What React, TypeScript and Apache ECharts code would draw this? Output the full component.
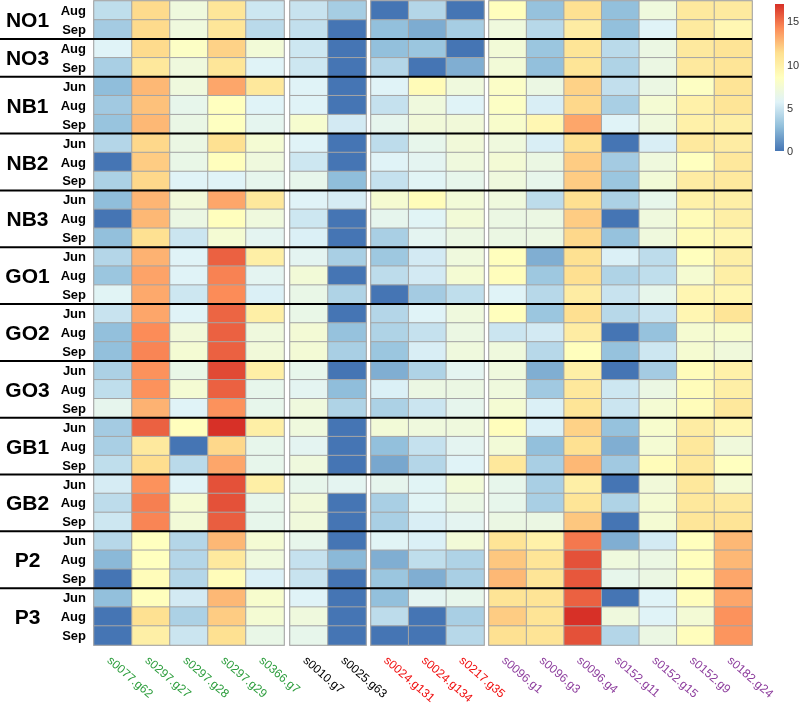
import React, { useEffect, useRef } from 'react';
import * as echarts from 'echarts';

const FONT = '"Liberation Sans", Arial, Helvetica, sans-serif';

const siteNames = ['NO1', 'NO3', 'NB1', 'NB2', 'NB3', 'GO1', 'GO2', 'GO3', 'GB1', 'GB2', 'P2', 'P3'];
const siteMonths = [
  ['Aug', 'Sep'], ['Aug', 'Sep'],
  ['Jun', 'Aug', 'Sep'], ['Jun', 'Aug', 'Sep'], ['Jun', 'Aug', 'Sep'],
  ['Jun', 'Aug', 'Sep'], ['Jun', 'Aug', 'Sep'], ['Jun', 'Aug', 'Sep'],
  ['Jun', 'Aug', 'Sep'], ['Jun', 'Aug', 'Sep'], ['Jun', 'Aug', 'Sep'], ['Jun', 'Aug', 'Sep'],
];

const genesGreen = ['s0077.g62', 's0297.g27', 's0297.g28', 's0297.g29', 's0366.g7'];
const genesBlack = ['s0010.g7', 's0025.g63'];
const genesRed = ['s0024.g131', 's0024.g134', 's0217.g35'];
const genesPurple = ['s0096.g1', 's0096.g3', 's0096.g4', 's0152.g11', 's0152.g15', 's0152.g9', 's0182.g24'];

// values per site: one row per month, columns follow green, black, red, purple genes
const NO1 = [
  [4.5, 11.5, 7, 10.8, 5, 4.8, 3.6, 0, 4.1, 0, 8.6, 3, 11.2, 2.9, 7, 10.5, 10.4],
  [3.5, 11.5, 7, 10.8, 4.3, 4.6, 0, 2.9, 2.1, 3.6, 7, 4.2, 10.2, 2.9, 5.7, 10.4, 9.2],
];
const NO3 = [
  [5.7, 11.5, 8.2, 11.8, 7.3, 5, 0, 2.9, 3.2, 0, 7.3, 3.2, 10.9, 4.3, 6.7, 10.5, 11],
  [3.7, 10.6, 7, 10.8, 5.7, 5, 0, 4.1, 0, 2.2, 7.3, 2.9, 10.9, 3.9, 6.7, 10.5, 10.9],
];
const NB1 = [
  [2.8, 12.7, 7, 13.3, 10.6, 5.7, 0, 5.7, 8.9, 7, 8.1, 6.7, 11.8, 4.6, 6.7, 8.3, 11],
  [3.4, 12.4, 6.3, 8.5, 5.7, 5.7, 0, 4.7, 7, 5.7, 8.2, 5.4, 11.6, 3.7, 7.5, 9.8, 10.9],
  [3.1, 12.7, 6.6, 8.4, 6.1, 7.7, 5.2, 6.2, 7.2, 7.2, 7.9, 9.2, 13.3, 5.7, 7, 9.8, 10],
];
const NB2 = [
  [4.1, 11.6, 6.7, 11.2, 7.5, 5.7, 0, 4.4, 6.3, 7.2, 7, 5.4, 11.2, 0, 5.4, 10.5, 10.2],
  [0, 12, 6.5, 8.6, 7, 5, 0, 5.7, 6, 7, 7.4, 6.7, 12, 3.5, 7, 8.5, 10.6],
  [3.8, 11.6, 5.7, 5.7, 6.2, 6.3, 2.8, 4.7, 5.8, 6.3, 7, 6.3, 12, 3.2, 7.3, 10.2, 10.5],
];
const NB3 = [
  [2.8, 12.8, 7.2, 13.3, 10.6, 5.7, 5.3, 7.6, 8.8, 7.3, 7, 4.4, 11.3, 3.8, 6.3, 9.8, 10],
  [0, 12.7, 6.7, 8.6, 7, 5, 0, 6.2, 5.8, 7.3, 6.7, 6.7, 12, 0, 7, 8.9, 10],
  [2.9, 11.2, 4.9, 7.5, 6, 5.5, 0, 3.7, 6, 6.7, 6.7, 6.7, 11.6, 3, 7, 8.9, 9.3],
];
const GO1 = [
  [4.1, 12.9, 5.7, 15.5, 10, 6, 3.7, 3.3, 5.2, 7, 8.6, 2.2, 11.2, 5.5, 4.4, 8.6, 10],
  [3.2, 13.4, 5.7, 14.5, 6, 7.3, 0, 4.4, 5.2, 7.5, 8.7, 3.3, 11.3, 3.9, 4.5, 7.6, 10],
  [5.8, 13.2, 5, 14.2, 5.5, 6.5, 3.9, 0, 3.5, 4.5, 5.7, 4.2, 10.2, 4.8, 6.3, 9.3, 9.3],
];
const GO2 = [
  [4.8, 13.3, 5.7, 15.4, 10, 6.5, 0, 4.1, 5.7, 7, 8.6, 3.2, 11.3, 4.2, 4.9, 9.3, 10.9],
  [2.9, 14.2, 7.2, 15.5, 7, 7.4, 3, 3.9, 4.7, 6.7, 4.9, 5.2, 10.2, 0, 3, 7.6, 7.8],
  [2.9, 14.4, 7.5, 15.5, 7.2, 7.4, 3.7, 3.2, 5.4, 7, 7, 4.2, 8.6, 3, 5, 7.6, 7.1],
];
const GO3 = [
  [3.8, 14, 6.5, 16.2, 10, 6.3, 0, 2.2, 3.9, 6, 7, 2.2, 10, 0, 3.5, 8.8, 9.8],
  [4.5, 14, 7.5, 15.5, 6.3, 6, 2.8, 5.5, 6.7, 6.7, 7, 3.4, 10.6, 5, 6.7, 8.8, 10],
  [6.2, 12.9, 5.7, 14, 6.3, 7, 3.9, 3.8, 4.9, 6.2, 7.5, 5.5, 10.9, 4.9, 7.5, 8.8, 10.6],
];
const GB1 = [
  [3.5, 15.5, 8.6, 17, 10, 7, 0, 7.3, 7, 7, 8.7, 5.5, 11.8, 3, 7.8, 10.2, 9.3],
  [3.7, 10.5, 0, 11.6, 6.3, 6, 0, 2.9, 4.7, 6, 7.3, 2.9, 11.2, 2.2, 7.5, 10.6, 7.1],
  [4.5, 11.4, 4.3, 13.3, 6.3, 7, 0, 1.9, 4.1, 5.7, 10.6, 3.7, 12.7, 3.4, 8.8, 10.6, 8.5],
];
const GB2 = [
  [5.3, 14, 5.7, 16, 10, 6.3, 6, 6.2, 5.8, 7.3, 6.3, 3.7, 10, 0, 7.2, 10.6, 7.4],
  [4.4, 14.6, 7.5, 16, 6.3, 7.2, 0, 3.7, 5.8, 6.6, 6.3, 3.7, 10.9, 3.9, 7.5, 10.6, 10.5],
  [5, 14.4, 7.3, 15.6, 6.3, 7.1, 0, 3.7, 5.4, 6, 6.7, 6.7, 12.2, 0, 7.5, 10.8, 11],
];
const P2 = [
  [4.2, 8.5, 4.1, 12.7, 7.5, 6.3, 0, 5.8, 5.5, 7.3, 11, 9.8, 14.8, 2.2, 5.2, 8.6, 12.7],
  [2.6, 8.5, 4.1, 10.5, 7, 4.7, 2.6, 2.2, 4.5, 3.9, 12.2, 10.9, 16, 7, 6.7, 8.6, 12.7],
  [0, 8.8, 4.1, 8.8, 5.5, 4.8, 0, 3.2, 2.2, 3.7, 12.7, 10.9, 15.8, 6.3, 6.7, 8.6, 13.3],
];
const P3 = [
  [2.9, 8.6, 5.2, 12.7, 7.8, 5.7, 0, 2.9, 6, 6.3, 11, 11, 15.5, 0, 5.7, 8.7, 13.3],
  [0, 11.2, 3.8, 12, 7.5, 7, 0, 4.4, 0, 3.7, 12, 11, 17, 7, 5.7, 7.4, 14],
  [0, 10, 4.9, 11.2, 6.5, 6.3, 0, 0, 0, 4.2, 11.2, 11, 16, 4.1, 6.7, 8.7, 13.9],
];
const siteValues = [NO1, NO3, NB1, NB2, NB3, GO1, GO2, GO3, GB1, GB2, P2, P3];

const scaleMin = 0;
const scaleMax = 17;
const colorbarInterval = 5;
const palette = ['#4575B4', '#91BFDB', '#E0F3F8', '#FFFFBF', '#FEE090', '#FC8D59', '#D73027'];

export default function App() {
  const ref = useRef<HTMLDivElement>(null);

  useEffect(() => {
    if (!ref.current) return;
    const chart = echarts.init(ref.current, null, { renderer: 'svg' });

    const rowKeys: string[] = [];
    const rows: number[][] = [];
    const siteRowRanges: [number, number][] = [];
    siteNames.forEach((s, si) => {
      const start = rows.length;
      siteMonths[si].forEach((m, mi) => {
        rowKeys.push(s + '|' + m);
        rows.push(siteValues[si][mi]);
      });
      siteRowRanges.push([start, rows.length - 1]);
    });

    const groups = [
      { names: genesGreen, color: '#2e9e3e', left: 94, width: 190 },
      { names: genesBlack, color: '#000000', left: 290, width: 76 },
      { names: genesRed, color: '#f01010', left: 371, width: 113 },
      { names: genesPurple, color: '#8e3f9e', left: 489, width: 263 },
    ];

    const grid: any[] = [];
    const xAxis: any[] = [];
    const yAxis: any[] = [];
    const series: any[] = [];
    let offset = 0;
    groups.forEach((g, gi) => {
      grid.push({
        left: g.left, top: 1, width: g.width, height: 644,
        outerBoundsMode: 'none', containLabel: false,
        show: true, borderColor: '#c6c6c6', borderWidth: 2, backgroundColor: 'transparent',
      });
      xAxis.push({
        type: 'category', gridIndex: gi, data: g.names, position: 'bottom',
        axisLine: { show: false }, axisTick: { show: false }, splitLine: { show: false },
        axisLabel: {
          interval: 0, rotate: -41, align: 'left', verticalAlign: 'top',
          color: g.color, fontSize: 12, fontFamily: FONT, margin: 9, hideOverlap: false,
        },
      });
      yAxis.push({
        type: 'category', gridIndex: gi, data: rowKeys, inverse: true,
        axisLine: { show: false }, axisTick: { show: false }, splitLine: { show: false },
        axisLabel: {
          show: gi === 0, interval: 0, margin: 8,
          formatter: (v: string) => v.split('|')[1],
          fontWeight: 'bold', fontSize: 13, fontFamily: FONT, color: '#000',
        },
      });
      const data: number[][] = [];
      rows.forEach((row, ri) => {
        g.names.forEach((_, ci) => data.push([ci, ri, row[offset + ci]]));
      });
      series.push({
        type: 'heatmap', xAxisIndex: gi, yAxisIndex: gi, data,
        itemStyle: { borderColor: '#a5a5a5', borderWidth: 1 },
        emphasis: { disabled: true }, silent: true,
      });
      offset += g.names.length;
    });

    // colour bar
    grid.push({ left: 775, top: 4, width: 9, height: 147, outerBoundsMode: 'none', containLabel: false });
    xAxis.push({ type: 'category', gridIndex: 4, data: [''], show: false });
    yAxis.push({
      type: 'value', gridIndex: 4, min: scaleMin, max: scaleMax, interval: colorbarInterval, position: 'right',
      axisLine: { show: false }, axisTick: { show: false }, splitLine: { show: false },
      axisLabel: { showMaxLabel: false, color: '#333', fontSize: 11, fontFamily: FONT, margin: 3 },
    });
    series.push({
      type: 'bar', xAxisIndex: 4, yAxisIndex: 4, data: [scaleMax], barWidth: 9, silent: true,
      itemStyle: {
        color: new echarts.graphic.LinearGradient(0, 1, 0, 0,
          palette.map((c, i) => ({ offset: i / (palette.length - 1), color: c }))),
      },
    });

    chart.setOption({
      animation: false,
      textStyle: { fontFamily: FONT },
      grid, xAxis, yAxis, series,
      visualMap: {
        type: 'continuous', show: false, min: scaleMin, max: scaleMax,
        seriesIndex: [0, 1, 2, 3], inRange: { color: palette },
      },
    });

    const yPix = (ri: number) => chart.convertToPixel({ yAxisIndex: 0 }, rowKeys[ri]) as number;
    const last = genesPurple.length - 1;
    const xa = chart.convertToPixel({ xAxisIndex: 3 }, genesPurple[last]) as number;
    const xb = chart.convertToPixel({ xAxisIndex: 3 }, genesPurple[last - 1]) as number;
    const rightEdge = xa + (xa - xb) / 2;

    const graphic: any[] = [];
    siteRowRanges.forEach(([a, b], si) => {
      const yc = (yPix(a) + yPix(b)) / 2;
      graphic.push({
        type: 'text', x: 27.5, y: yc, z: 100,
        style: {
          text: siteNames[si], fontSize: 21, fontWeight: 'bold', fontFamily: FONT,
          fill: '#000', align: 'center', verticalAlign: 'middle',
        },
      });
      if (si > 0) {
        const yl = (yPix(a - 1) + yPix(a)) / 2;
        graphic.push({
          type: 'line', z: 100,
          shape: { x1: 0, y1: yl, x2: rightEdge, y2: yl },
          style: { stroke: '#000', lineWidth: 2 },
        });
      }
    });
    chart.setOption({ graphic });

    return () => chart.dispose();
  }, []);

  return <div ref={ref} style={{ position: 'fixed', left: 0, top: 0, width: 799, height: 704 }} />;
}
